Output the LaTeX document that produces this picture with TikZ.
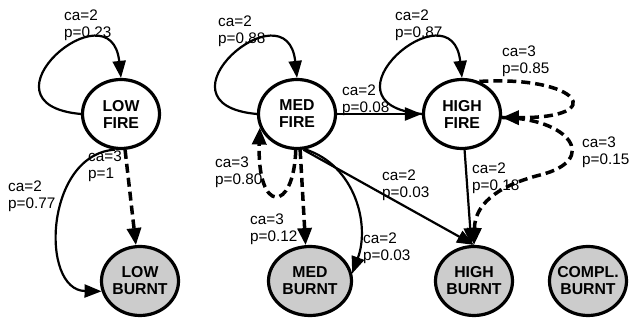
\documentclass[tikz,border=0pt]{standalone}
\usepackage{fontspec}
\setmainfont{Liberation Sans}
\usetikzlibrary{arrows.meta,shapes.geometric}
\definecolor{burntgray}{RGB}{204,204,204}
\newcommand{\zbox}[1]{\makebox[0pt]{#1}}
\begin{document}
\begin{tikzpicture}[x=1pt,y=-1pt,
  state/.style={ellipse,draw=black,line width=3.2pt,minimum width=77pt,minimum height=69pt,inner sep=0pt,align=center,font=\fontsize{15.8}{17}\selectfont\bfseries},
  fire/.style={state,fill=white},
  burnt/.style={state,fill=burntgray},
  lbl/.style={anchor=west,inner sep=0pt,align=left,font=\fontsize{15.3}{16.8}\selectfont},
  solidedge/.style={line width=2.2pt,-{Triangle[length=17pt,width=13pt]}},
  dashedge/.style={line width=3.5pt,dash pattern=on 9pt off 5pt,-{Triangle[length=17pt,width=14pt]}},
]
\useasboundingbox (0,0) rectangle (630,320);

% states
\node[fire]  (LF) at (121,114) {\zbox{LOW}\\\zbox{FIRE}};
\node[fire]  (MF) at (297,114) {\zbox{MED}\\\zbox{FIRE}};
\node[fire]  (HF) at (462,114) {\zbox{HIGH}\\\zbox{FIRE}};
\node[burnt] (LB) at (140,281) {\zbox{LOW}\\\zbox{BURNT}};
\node[burnt,minimum width=83pt] (MB) at (310,281) {\zbox{MED}\\\zbox{BURNT}};
\node[burnt] (HB) at (474,281) {\zbox{HIGH}\\\zbox{BURNT}};
\node[burnt] (CB) at (588,281) {\zbox{COMPL.}\\\zbox{BURNT}};

% LOW FIRE edges
\draw[solidedge] (LF.west) .. controls +(-110,-10) and +(-10,-94) .. (LF.north);
\draw[solidedge] (LF.260) .. controls +(-70,5) and +(-62,-1) .. (LB.195);
\draw[dashedge] (LF) -- (LB);

% MED FIRE edges
\draw[solidedge] (MF.west) .. controls +(-110,-10) and +(-10,-94) .. (MF.north);
\draw[solidedge] (MF) -- (HF);
\draw[dashedge] (MF.268) .. controls +(-2,63) and +(-3,87) .. (MF.200);
\draw[dashedge] (MF.275) -- (MB.97);
\draw[solidedge] (MF.283) .. controls +(50,16) and +(18,-49) .. (MB.10);
\draw[solidedge] (MF.280) -- (HB.north);

% HIGH FIRE edges
\draw[solidedge] (HF.west) .. controls +(-110,-10) and +(-10,-94) .. (HF.north);
\draw[solidedge] (HF) -- (HB);
\draw[dashedge] (HF.62) .. controls +(101,-6) and +(108,1) .. (HF.355);
\draw[dashedge] (HF.355) .. controls (570,118) and (600,160) .. (540,175)
  .. controls (505,184) and (475,200) .. (HB.north);

% labels
\node[lbl] (l1)  at (64,25)    {ca=2\\p=0.23};
\node[lbl] (l2)  at (8,196.5)  {ca=2\\p=0.77};
\node[lbl] (l3)  at (88,166)   {ca=3\\p=1};
\node[lbl] (l4)  at (218,31.5) {ca=2\\p=0.88};
\node[lbl] (l5)  at (342,100.5){ca=2\\p=0.08};
\node[lbl] (l6)  at (215,172)  {ca=3\\p=0.80};
\node[lbl] (l7)  at (250,229)  {ca=3\\p=0.12};
\node[lbl] (l8)  at (363,248)  {ca=2\\p=0.03};
\node[lbl] (l9)  at (382,185.5){ca=2\\p=0.03};
\node[lbl] (l10) at (395,25)   {ca=2\\p=0.87};
\node[lbl] (l11) at (472,178.5){ca=2\\p=0.18};
\node[lbl] (l12) at (502,61.5) {ca=3\\p=0.85};
\node[lbl] (l13) at (582,152)  {ca=3\\p=0.15};
\end{tikzpicture}
\end{document}
